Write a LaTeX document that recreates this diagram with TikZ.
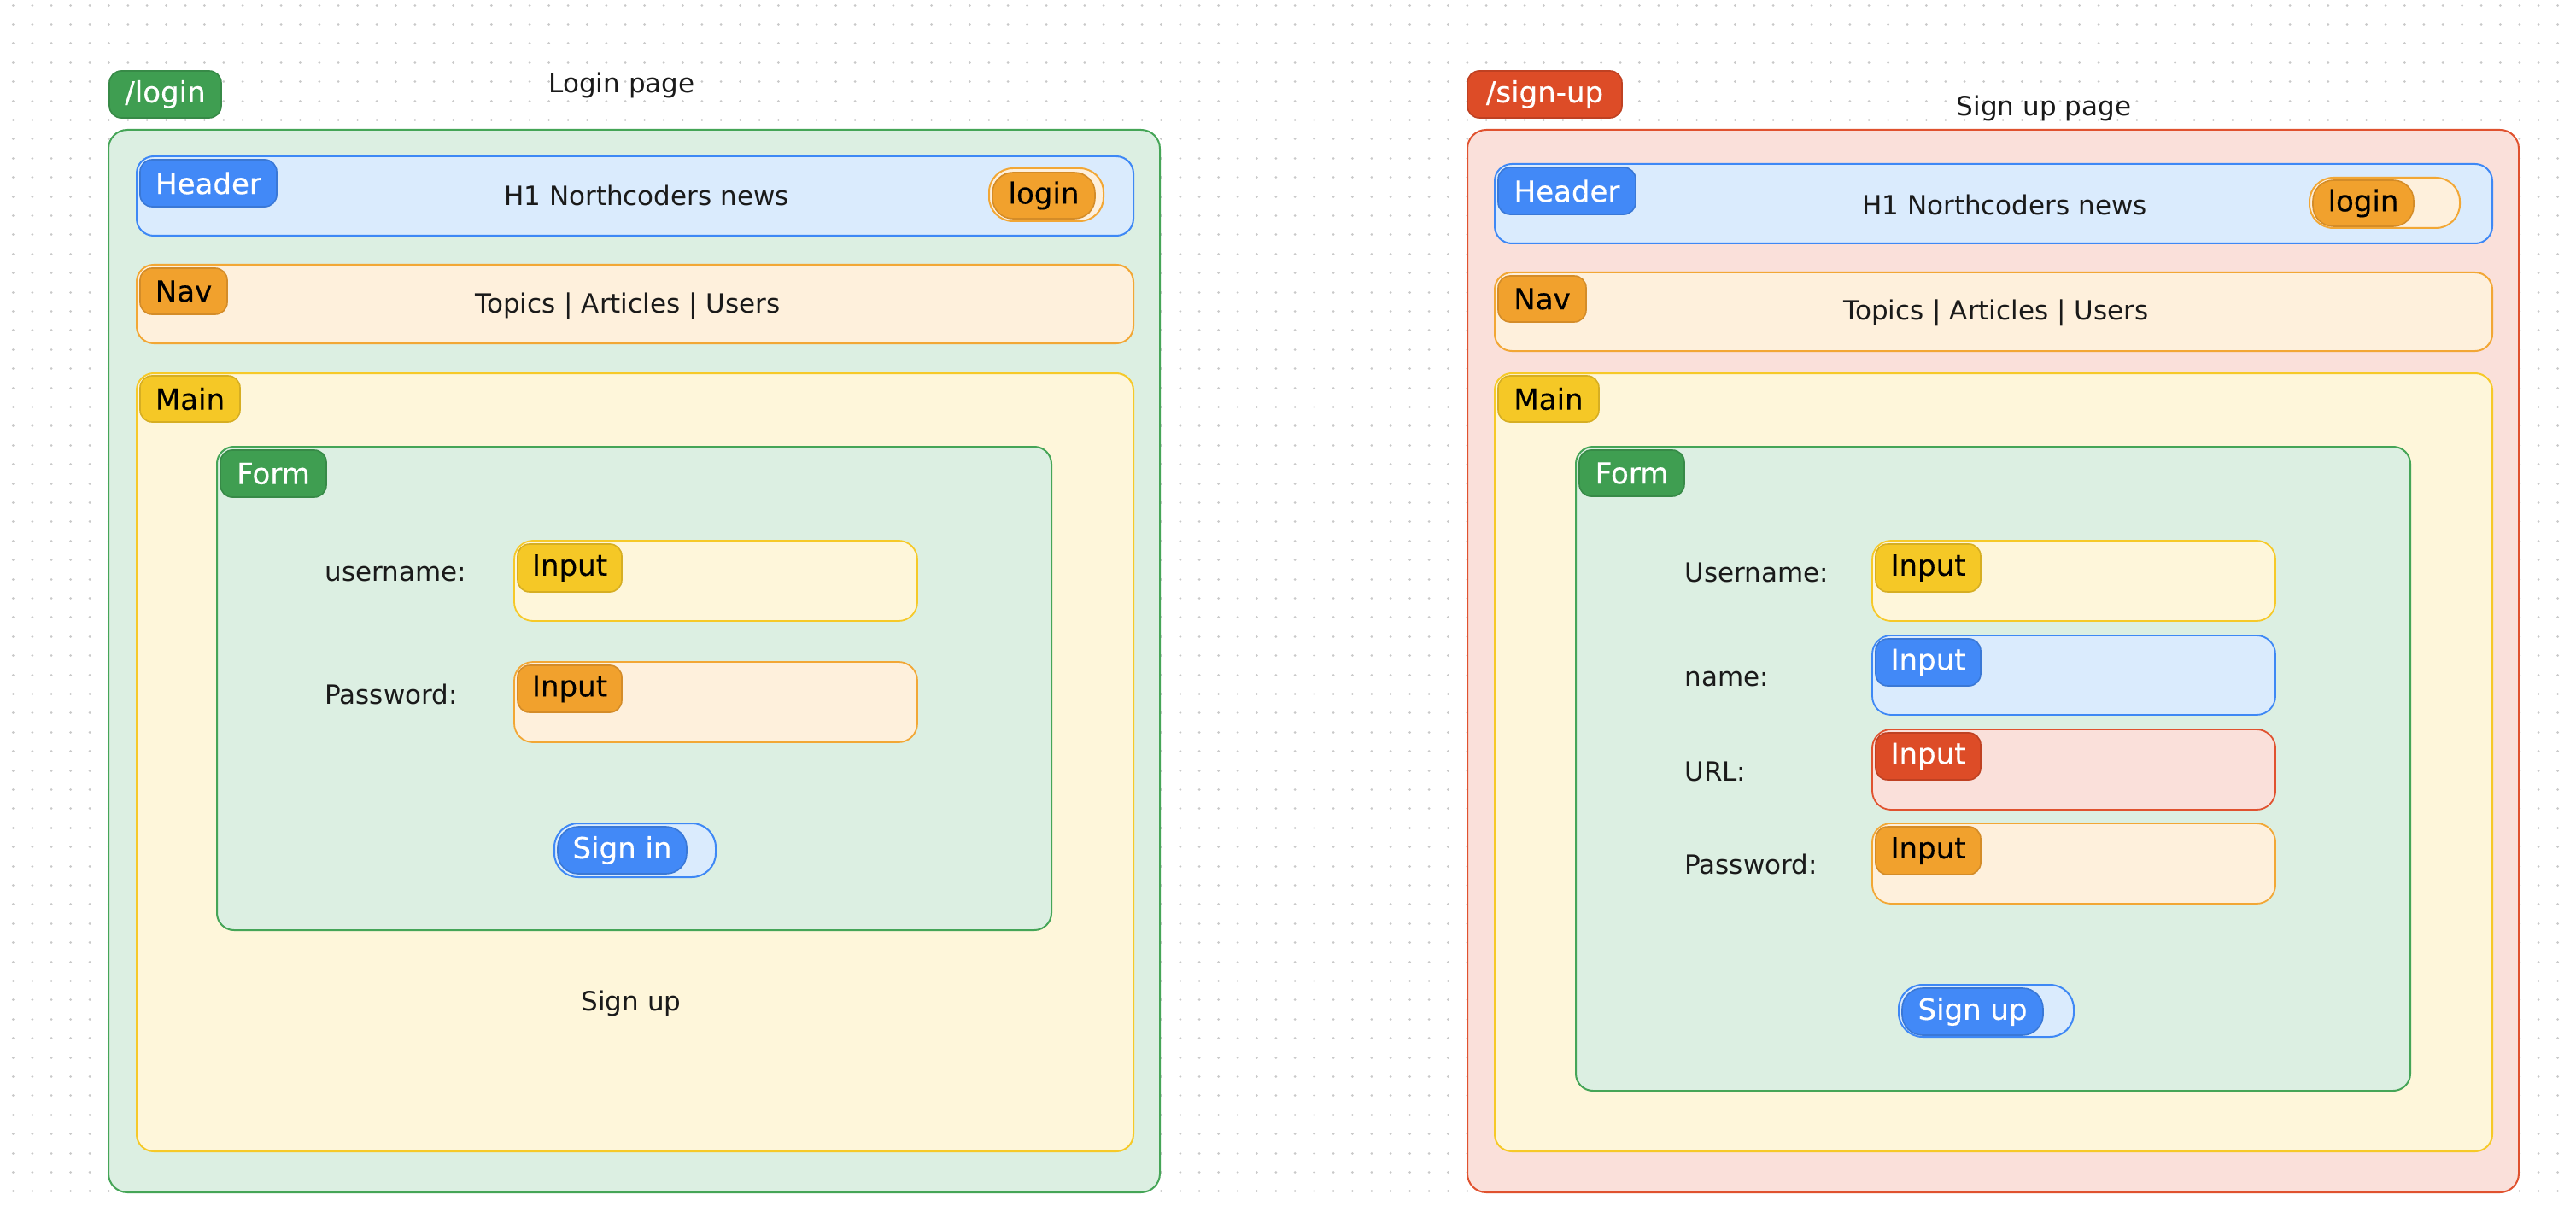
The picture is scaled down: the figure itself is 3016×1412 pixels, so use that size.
\documentclass[tikz,border=0pt]{standalone}
\usepackage{fontspec}
\setmainfont{DejaVu Sans}
\newfontfamily\tagfont[FakeBold=0.35]{DejaVu Sans}
\definecolor{gfill}{HTML}{DCEFE2}
\definecolor{gline}{HTML}{45A557}
\definecolor{gtag}{HTML}{3F9E51}
\definecolor{gtagd}{HTML}{378A47}
\definecolor{bfill}{HTML}{DAEBFD}
\definecolor{bline}{HTML}{3E88F5}
\definecolor{btag}{HTML}{4289F7}
\definecolor{btagd}{HTML}{3A78D6}
\definecolor{ofill}{HTML}{FEF0DC}
\definecolor{oline}{HTML}{F2A735}
\definecolor{otag}{HTML}{F1A12D}
\definecolor{otagd}{HTML}{D48C28}
\definecolor{yfill}{HTML}{FEF6DA}
\definecolor{yline}{HTML}{F6C928}
\definecolor{ytag}{HTML}{F5C826}
\definecolor{ytagd}{HTML}{D6AE22}
\definecolor{rfill}{HTML}{FAE0DA}
\definecolor{rline}{HTML}{E0522F}
\definecolor{rtag}{HTML}{DD4C27}
\definecolor{rtagd}{HTML}{BF4122}
\definecolor{txt}{HTML}{1A1A1A}
\definecolor{dotc}{HTML}{C9C9C9}
\newcommand\bx[6]{\node[#6, minimum width={(#4-#2)*0.5pt}, minimum height={(#5-#3)*0.5pt}] (#1) at ({(#2+#4)/2},{(#3+#5)/2}) {};}
\newcommand\tg[7]{\node[#6, minimum width={(#4-#2)*0.5pt}, minimum height={(#5-#3)*0.5pt}] (#1) at ({(#2+#4)/2},{(#3+#5)/2}) {#7};}
\begin{document}
\begin{tikzpicture}[x=0.5pt,y=-0.5pt,
  box/.style={draw, rounded corners=10pt, line width=1pt, inner sep=0pt, outer sep=0pt},
  pagebox/.style={box, rounded corners=11pt},
  inbox/.style={box, rounded corners=11pt, line width=0.9pt},
  tagbox/.style={draw, rounded corners=7pt, line width=0.8pt, inner sep=0pt, outer sep=0pt, font=\tagfont\fontsize{17}{20}\selectfont},
  btnbox/.style={box, rounded corners=14pt, line width=1pt},
  btntag/.style={tagbox, rounded corners=12pt},
  green/.style={fill=gfill, draw=gline},
  blue/.style={fill=bfill, draw=bline},
  orange/.style={fill=ofill, draw=oline},
  yellow/.style={fill=yfill, draw=yline},
  red/.style={fill=rfill, draw=rline},
  gt/.style={fill=gtag, draw=gtagd, text=white},
  bt/.style={fill=btag, draw=btagd, text=white},
  ot/.style={fill=otag, draw=otagd, text=black},
  yt/.style={fill=ytag, draw=ytagd, text=black},
  rt/.style={fill=rtag, draw=rtagd, text=white},
  txtn/.style={text=txt, inner sep=0pt, font=\fontsize{15.5}{18}\selectfont},
  lbl/.style={txtn, anchor=west}
]
\useasboundingbox (0,0) rectangle (3016,1412);
\fill[white] (0,0) rectangle (3016,1412);
% dot grid
\foreach \j in {0,...,62}
  \draw[dotc, line width=1.5pt, line cap=round, dash pattern=on 0.01pt off 11.19pt]
    (15.4,{6.1+\j*22.4}) -- (3016,{6.1+\j*22.4});

% ================= LOGIN PAGE =================
\tg{logintag}{128}{83}{259}{138}{tagbox,gt}{/login}
\node[txtn] (ltitle) at (728,100) {Login page};
\bx{lpage}{127}{152}{1358}{1396}{pagebox,green}
\bx{lheader}{160}{183}{1327}{276}{box,blue}
\tg{lheadertag}{164}{187}{324}{242}{tagbox,bt}{Header}
\node[txtn] (lh1) at (757,229) {H1 Northcoders news};
\bx{lloginbtn}{1158}{197}{1292}{259}{btnbox,orange}
\tg{llogintag}{1162}{202}{1282}{256}{btntag,ot}{login}
\bx{lnav}{160}{310}{1327}{402}{box,orange}
\tg{lnavtag}{164}{314}{266}{368}{tagbox,ot}{Nav}
\node[txtn] (lnavtxt) at (735,358) {Topics | Articles | Users};
\bx{lmain}{160}{437}{1327}{1348}{box,yellow}
\tg{lmaintag}{164}{440}{281}{494}{tagbox,yt}{Main}
\bx{lform}{254}{523}{1231}{1089}{box,green}
\tg{lformtag}{258}{527}{382}{582}{tagbox,gt}{Form}
\node[lbl] (luser) at (380,672) {username:};
\bx{lin1}{602}{633}{1074}{727}{inbox,yellow}
\tg{lin1tag}{606}{637}{728}{693}{tagbox,yt}{Input}
\node[lbl] (lpass) at (380,813) {Password:};
\bx{lin2}{602}{775}{1074}{869}{inbox,orange}
\tg{lin2tag}{606}{779}{728}{834}{tagbox,ot}{Input}
\bx{lsignin}{649}{964}{838}{1027}{btnbox,blue}
\tg{lsignintag}{653}{968}{804}{1023}{btntag,bt}{Sign in}
\node[txtn] (lsignup) at (739,1175) {Sign up};

% ================= SIGN UP PAGE =================
\tg{signuptag}{1718}{83}{1899}{138}{tagbox,rt}{/sign-up}
\node[txtn] (rtitle) at (2393,127) {Sign up page};
\bx{rpage}{1718}{152}{2949}{1396}{pagebox,red}
\bx{rheader}{1750}{192}{2918}{285}{box,blue}
\tg{rheadertag}{1754}{196}{1915}{251}{tagbox,bt}{Header}
\node[txtn] (rh1) at (2347,240) {H1 Northcoders news};
\bx{rloginbtn}{2704}{208}{2880}{267}{btnbox,orange}
\tg{rlogintag}{2708}{211}{2826}{265}{btntag,ot}{login}
\bx{rnav}{1750}{319}{2918}{411}{box,orange}
\tg{rnavtag}{1754}{323}{1857}{377}{tagbox,ot}{Nav}
\node[txtn] (rnavtxt) at (2337,366) {Topics | Articles | Users};
\bx{rmain}{1750}{437}{2918}{1348}{box,yellow}
\tg{rmaintag}{1754}{440}{1872}{494}{tagbox,yt}{Main}
\bx{rform}{1845}{523}{2822}{1277}{box,green}
\tg{rformtag}{1849}{527}{1972}{581}{tagbox,gt}{Form}
\node[lbl] (ruser) at (1972,670) {Username:};
\bx{rin1}{2192}{633}{2664}{727}{inbox,yellow}
\tg{rin1tag}{2196}{637}{2319}{693}{tagbox,yt}{Input}
\node[lbl] (rname) at (1972,795) {name:};
\bx{rin2}{2192}{744}{2664}{837}{inbox,blue}
\tg{rin2tag}{2196}{748}{2319}{803}{tagbox,bt}{Input}
\node[lbl] (rurl) at (1972,903) {URL:};
\bx{rin3}{2192}{854}{2664}{948}{inbox,red}
\tg{rin3tag}{2196}{858}{2319}{913}{tagbox,rt}{Input}
\node[lbl] (rpass) at (1972,1012) {Password:};
\bx{rin4}{2192}{964}{2664}{1058}{inbox,orange}
\tg{rin4tag}{2196}{968}{2319}{1024}{tagbox,ot}{Input}
\bx{rsignup}{2223}{1153}{2428}{1214}{btnbox,blue}
\tg{rsignuptag}{2227}{1157}{2392}{1212}{btntag,bt}{Sign up}
\end{tikzpicture}
\end{document}
